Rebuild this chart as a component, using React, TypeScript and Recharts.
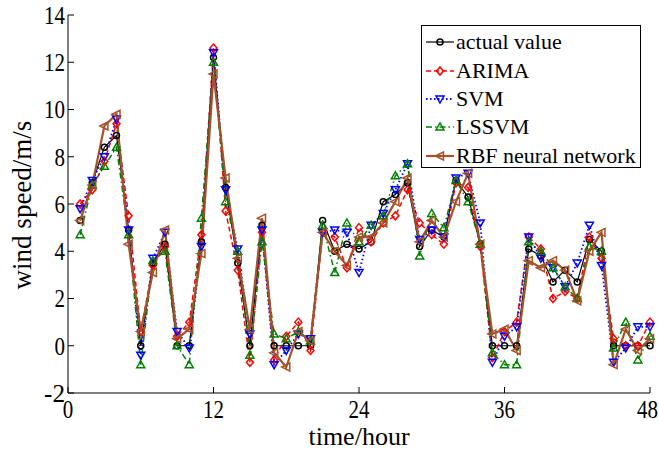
import React from 'react'
import { LineChart, Line, XAxis, YAxis } from 'recharts'

// hours 1..48
const hours = [
  1, 2, 3, 4, 5, 6, 7, 8, 9, 10, 11, 12, 13, 14, 15, 16, 17, 18, 19, 20, 21, 22, 23, 24,
  25, 26, 27, 28, 29, 30, 31, 32, 33, 34, 35, 36, 37, 38, 39, 40, 41, 42, 43, 44, 45, 46, 47, 48,
]

const actualValue = [
  5.3, 6.9, 8.4, 8.9, 4.9, 0, 3.5, 4.3, 0, 0, 4.4, 12.2, 6.7, 3.5, 0, 5.1, 0, 0, 0, 0, 5.3, 4.0, 4.3, 4.1,
  4.4, 6.1, 6.4, 6.9, 4.2, 4.9, 4.6, 7.0, 6.3, 4.3, 0, 0, 0, 4.1, 3.8, 2.7, 3.2, 2.7, 4.5, 4.0, 0, 0, 0, 0,
]

const arima = [
  6.0, 6.6, 7.8, 9.4, 5.5, 0.6, 3.4, 4.2, 0.4, 1.0, 4.7, 12.6, 5.7, 3.2, -0.7, 4.8, -0.6, 0.4, 1.0, -0.2, 4.8, 4.6, 3.3, 5.0,
  4.4, 5.2, 5.5, 6.6, 5.2, 4.7, 4.3, 6.9, 6.7, 4.2, -0.5, 0.6, 1.0, 4.6, 4.1, 2.0, 2.3, 2.0, 4.6, 3.7, 0.3, 0, 0, 1.0,
]

const svm = [
  5.8, 7.0, 8.0, 9.6, 4.9, -0.4, 3.7, 4.8, 0.6, -0.1, 4.2, 12.4, 6.6, 4.1, 0.5, 4.9, -0.8, -0.2, 0.5, 0.3, 4.8, 4.9, 4.8, 3.1,
  5.1, 5.6, 6.6, 7.7, 4.5, 4.9, 4.6, 7.1, 7.3, 5.2, -0.7, 0.4, 0.8, 4.6, 3.7, 3.3, 2.5, 3.5, 5.1, 3.4, -0.7, -0.1, 0.8, 0.8,
]

const lssvm = [
  4.7, 6.8, 7.6, 8.4, 4.7, -0.8, 3.6, 4.0, 0, -0.8, 5.4, 12.0, 6.1, 4.0, -0.4, 4.4, 0.5, 0.3, 0.6, 0.2, 5.1, 3.1, 5.2, 4.4,
  5.1, 5.5, 7.2, 7.7, 3.8, 5.6, 5.0, 7.0, 6.1, 4.3, -0.3, -0.8, -0.8, 4.4, 4.0, 3.3, 2.5, 2.0, 4.2, 4.0, -0.1, 1.0, -0.6, 0.4,
]

const rbf = [
  5.3, 6.8, 9.3, 9.8, 4.3, 0.6, 3.1, 4.9, 0.3, 0.7, 3.9, 11.5, 7.1, 3.7, 0.7, 5.4, -0.3, -0.9, 0.6, 0.2, 4.8, 4.0, 3.4, 4.6,
  4.6, 5.2, 6.1, 7.1, 4.4, 5.3, 4.6, 6.1, 7.3, 4.3, 0.5, 0.7, -0.2, 3.6, 3.3, 3.6, 3.2, 1.9, 4.0, 4.8, -0.8, 0.7, -0.2, 0.3,
]

const xTicks = [0, 12, 24, 36, 48]
const yTicks = [-2, 0, 2, 4, 6, 8, 10, 12, 14]

const chartData = hours.map((h, i) => ({
  hour: h,
  actual: actualValue[i],
  arima: arima[i],
  svm: svm[i],
  lssvm: lssvm[i],
  rbf: rbf[i],
}))

const FONT = '"Liberation Serif", "Times New Roman", serif'

type Mark = 'circle' | 'diamond' | 'down' | 'up' | 'left'

function markerPath(kind: Mark, cx: number, cy: number) {
  switch (kind) {
    case 'diamond':
      return `M${cx},${cy - 4}L${cx + 3.5},${cy}L${cx},${cy + 4}L${cx - 3.5},${cy}Z`
    case 'down':
      return `M${cx - 4},${cy - 3}L${cx + 4},${cy - 3}L${cx},${cy + 4}Z`
    case 'up':
      return `M${cx - 4},${cy + 3}L${cx + 4},${cy + 3}L${cx},${cy - 4}Z`
    case 'left':
      return `M${cx - 4.5},${cy}L${cx + 3.5},${cy - 4}L${cx + 3.5},${cy + 4}Z`
    default:
      return `M${cx - 3},${cy}a3,3 0 1,0 6,0a3,3 0 1,0 -6,0`
  }
}

const series = [
  { key: 'actual', name: 'actual value', color: '#000000', dash: undefined, width: 1.2, mark: 'circle' as Mark },
  { key: 'arima', name: 'ARIMA', color: '#ff0000', dash: '5 3', width: 1.5, mark: 'diamond' as Mark },
  { key: 'svm', name: 'SVM', color: '#0000ff', dash: '1.5 2.5', width: 1.8, mark: 'down' as Mark },
  { key: 'lssvm', name: 'LSSVM', color: '#008000', dash: '6 3 1.5 3', width: 1.5, mark: 'up' as Mark },
  { key: 'rbf', name: 'RBF neural network', color: '#a5522a', dash: undefined, width: 2.2, mark: 'left' as Mark },
]

const makeDot = (kind: Mark, color: string) => (p: any) => (
  <path
    key={`dot-${kind}-${p.index}`}
    d={markerPath(kind, p.cx, p.cy)}
    fill="none"
    stroke={color}
    strokeWidth={1.5}
  />
)

// tick labels in the picture are a little narrow and tall
const tickWidth = (v: number) => String(v).length * 10.5

const BottomTick = ({ x, y, payload }: any) => {
  const w = tickWidth(payload.value)
  // keep the last label inside the 659px page
  const cx = Math.min(x, 658 - w / 2)
  return (
    <g>
      <line x1={x} x2={x} y1={y} y2={y - 6} stroke="#000" />
      <text
        x={cx}
        y={y + 25}
        textAnchor="middle"
        fontSize={25}
        fontFamily={FONT}
        fill="#000"
        textLength={w}
        lengthAdjust="spacingAndGlyphs"
      >
        {payload.value}
      </text>
    </g>
  )
}

const LeftTick = ({ x, y, payload }: any) => (
  <g>
    <line x1={x} x2={x + 6} y1={y} y2={y} stroke="#000" />
    <text
      x={x - 3}
      y={y}
      dy="0.35em"
      textAnchor="end"
      fontSize={25}
      fontFamily={FONT}
      fill="#000"
      textLength={tickWidth(payload.value)}
      lengthAdjust="spacingAndGlyphs"
    >
      {payload.value}
    </text>
  </g>
)

const TopTick = ({ x, y }: any) => <line x1={x} x2={x} y1={y} y2={y + 6} stroke="#000" />
const RightTick = ({ x, y }: any) => <line x1={x} x2={x - 6} y1={y} y2={y} stroke="#000" />

function LegendBox() {
  return (
    <div
      style={{
        position: 'absolute',
        left: 421,
        top: 25,
        width: 220,
        height: 143,
        border: '1px solid #000',
        background: '#fff',
        fontFamily: FONT,
        fontSize: 22,
        paddingTop: 2,
        boxSizing: 'border-box',
      }}
    >
      {series.map((s) => (
        <div key={s.key} style={{ display: 'flex', alignItems: 'center', height: 28.4 }}>
          <svg width={32} height={14} style={{ marginLeft: 2, flex: 'none' }}>
            <line x1={2} x2={30} y1={7} y2={7} stroke={s.color} strokeWidth={s.width} strokeDasharray={s.dash} />
            <path d={markerPath(s.mark, 16, 7)} fill="none" stroke={s.color} strokeWidth={1.5} />
          </svg>
          <span style={{ whiteSpace: 'nowrap', lineHeight: '28px' }}>{s.name}</span>
        </div>
      ))}
    </div>
  )
}

export default function App() {
  return (
    <div style={{ position: 'absolute', left: 0, top: 0, width: 659, height: 450, background: '#fff' }}>
      <LineChart
        width={659}
        height={450}
        data={chartData}
        margin={{ top: 15, right: 9, bottom: 0, left: 0 }}
      >
        <XAxis
          dataKey="hour"
          type="number"
          domain={[0, 48]}
          ticks={xTicks}
          interval={0}
          height={57}
          tickSize={0}
          tickMargin={0}
          tickLine={false}
          tick={<BottomTick />}
          axisLine={{ stroke: '#000' }}
        />
        <XAxis
          xAxisId="top"
          dataKey="hour"
          type="number"
          orientation="top"
          domain={[0, 48]}
          ticks={xTicks}
          interval={0}
          height={0}
          tickSize={0}
          tickMargin={0}
          tickLine={false}
          tick={<TopTick />}
          axisLine={{ stroke: '#000' }}
        />
        <YAxis
          type="number"
          domain={[-2, 14]}
          ticks={yTicks}
          interval={0}
          width={68}
          tickSize={0}
          tickMargin={0}
          tickLine={false}
          tick={<LeftTick />}
          axisLine={{ stroke: '#000' }}
        />
        <YAxis
          yAxisId="right"
          orientation="right"
          type="number"
          domain={[-2, 14]}
          ticks={yTicks}
          interval={0}
          width={0}
          tickSize={0}
          tickMargin={0}
          tickLine={false}
          tick={<RightTick />}
          axisLine={{ stroke: '#000' }}
        />
        {series.map((s) => (
          <Line
            key={s.key}
            type="linear"
            dataKey={s.key}
            name={s.name}
            stroke={s.color}
            strokeWidth={s.width}
            strokeDasharray={s.dash}
            dot={makeDot(s.mark, s.color)}
            activeDot={false}
            isAnimationActive={false}
          />
        ))}
      </LineChart>
      <LegendBox />
      <div
        style={{
          position: 'absolute',
          left: 22,
          top: 205,
          transform: 'translate(-50%, -50%) rotate(-90deg)',
          fontFamily: FONT,
          fontSize: 27,
          whiteSpace: 'nowrap',
          lineHeight: '27px',
        }}
      >
        wind speed/m/s
      </div>
      <div
        style={{
          position: 'absolute',
          left: 359,
          top: 424,
          transform: 'translateX(-50%)',
          fontFamily: FONT,
          fontSize: 26,
          whiteSpace: 'nowrap',
          lineHeight: '26px',
        }}
      >
        time/hour
      </div>
    </div>
  )
}
